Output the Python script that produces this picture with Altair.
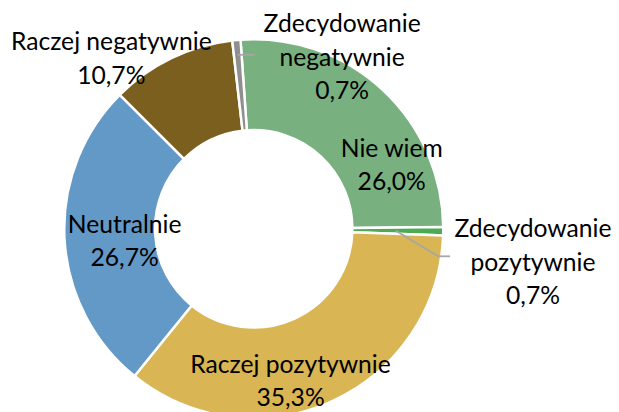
import math
import altair as alt
import pandas as pd

# ---- data ----
categories = ["Nie wiem", "Zdecydowanie pozytywnie", "Raczej pozytywnie",
              "Neutralnie", "Raczej negatywnie", "Zdecydowanie negatywnie"]
values = [26.0, 0.7, 35.3, 26.7, 10.7, 0.7]
labels = ["Nie wiem\n26,0%", "Zdecydowanie\npozytywnie\n0,7%", "Raczej pozytywnie\n35,3%",
          "Neutralnie\n26,7%", "Raczej negatywnie\n10,7%", "Zdecydowanie\nnegatywnie\n0,7%"]
colors = ["#79b07f", "#4caa52", "#d9b554", "#6399c7", "#7a5f1f", "#8f8f8f"]

df = pd.DataFrame({"cat": categories, "value": values, "label": labels,
                   "order": list(range(len(categories)))})
total = float(sum(values))

# ---- layout / style ----
W, H = 611, 404
CX, CY = 249, 221
R_OUT, R_IN = 192, 100
START = math.radians(-4)
FONT = "Lato"
FS = 25
LH = 34

theta_scale = alt.Scale(domain=[0, total], range=[START, START + 2 * math.pi])

base = alt.Chart(df).transform_window(
    cum="sum(value)", sort=[{"field": "order"}]
).transform_calculate(mid="datum.cum - datum.value / 2")

arc = alt.Chart(df).mark_arc(
    innerRadius=R_IN, outerRadius=R_OUT, stroke="white", strokeWidth=2.5
).encode(
    theta=alt.Theta("value:Q", stack=True, scale=theta_scale),
    color=alt.Color("cat:N", scale=alt.Scale(domain=categories, range=colors), legend=None),
    order=alt.Order("order:Q"),
    x=alt.value(CX), y=alt.value(CY),
)

# per-label placement: (radius, dx, dy) -- dy refers to the first text line
place = {
    0: (150, 38, 29),
    1: (280, 3, -3),
    2: (155, -27, -3),
    3: (130, -1, -11),
    4: (224, -47, 13),
    5: (190, 107, -18),
}

layers = [arc]

# leader lines
ang = f"({START} + datum.mid / {total} * 2 * PI)"
lead_zp = base.transform_filter(alt.datum.order == 1).transform_calculate(
    x1=f"{CX} + 144 * sin({ang})", y1=f"{CY} - 144 * cos({ang})"
).transform_calculate(
    x2="datum.x1 + 43", y2="datum.y1 + 26"
).transform_calculate(x3="datum.x2 + 12")
layers.append(lead_zp.mark_rule(color="#a6a6a6", strokeWidth=1.8).encode(
    x=alt.X("x1:Q", scale=None), y=alt.Y("y1:Q", scale=None),
    x2="x2:Q", y2="y2:Q"))
layers.append(lead_zp.mark_rule(color="#a6a6a6", strokeWidth=1.8).encode(
    x=alt.X("x2:Q", scale=None), y=alt.Y("y2:Q", scale=None),
    x2="x3:Q", y2="y2:Q"))

lead_zn = base.transform_filter(alt.datum.order == 5).transform_calculate(
    x1=f"{CX} + 177 * sin({ang})", y1=f"{CY} - 177 * cos({ang})"
).transform_calculate(x2="datum.x1 + 17")
layers.append(lead_zn.mark_rule(color="#a6a6a6", strokeWidth=1.8).encode(
    x=alt.X("x1:Q", scale=None), y=alt.Y("y1:Q", scale=None),
    x2="x2:Q", y2="y1:Q"))

for i, (r, dx, dy) in place.items():
    layers.append(
        base.transform_filter(alt.datum.order == i).mark_text(
            radius=r, dx=dx, dy=dy, font=FONT, fontSize=FS, lineHeight=LH,
            lineBreak="\n", align="center", baseline="middle", color="#000000"
        ).encode(
            theta=alt.Theta("mid:Q"),
            text="label:N",
            x=alt.value(CX), y=alt.value(CY),
        )
    )

chart = alt.layer(*layers).properties(
    width=W, height=H, padding=0,
    autosize=alt.AutoSizeParams(type="none"),
).configure_view(stroke=None)

chart.save("out.html", embed_options={"renderer": "svg", "actions": False})
